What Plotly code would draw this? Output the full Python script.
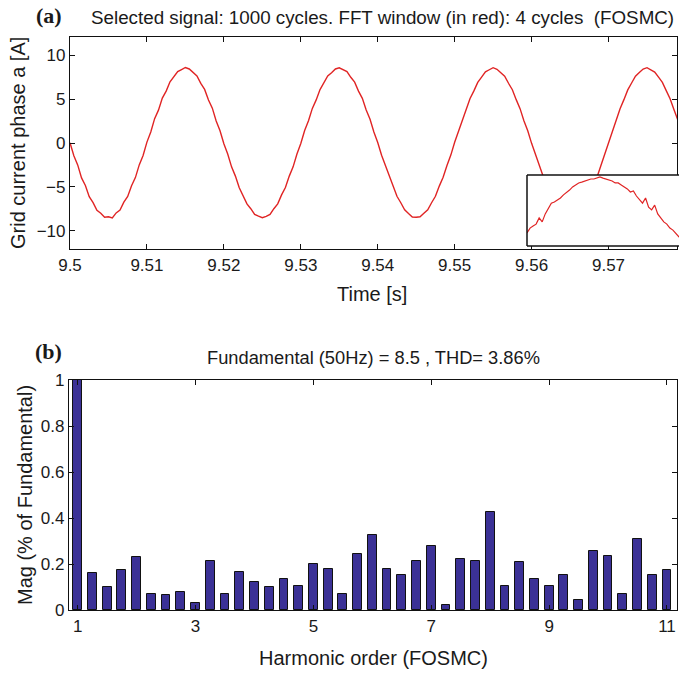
import numpy as np
import plotly.graph_objects as go

# ---------------- data ----------------
t_start = 9.5
t_step = 0.0005
current_a = [
    0.02, -1.45, -2.50, -3.98, -4.85, -6.12, -6.80, -7.68, -8.02, -8.47, -8.42, -8.55, -7.98, -7.66, -6.75, -6.10, -4.88, -3.95, -2.50, -1.42,
    0.10, 1.25, 2.78, 3.75, 5.12, 5.92, 6.98, 7.50, 8.15, 8.38, 8.62, 8.45, 8.00, 7.66, 6.80, 6.12, 4.90, 3.98, 2.52, 1.40,
    -0.08, -1.25, -2.72, -3.78, -5.10, -5.95, -6.95, -7.50, -8.15, -8.35, -8.52, -8.38, -8.15, -7.50, -6.95, -5.92, -5.08, -3.78, -2.72, -1.25,
    -0.05, 1.42, 2.55, 3.95, 4.92, 6.10, 6.82, 7.65, 8.02, 8.45, 8.58, 8.35, 8.15, 7.50, 6.95, 5.92, 5.10, 3.78, 2.70, 1.25,
    0.06, -1.40, -2.55, -3.92, -4.95, -6.08, -6.82, -7.62, -8.05, -8.45, -8.48, -8.42, -8.02, -7.62, -6.82, -6.08, -4.92, -3.92, -2.58, -1.38,
    0.08, 1.28, 2.70, 3.80, 5.08, 5.95, 6.92, 7.52, 8.12, 8.36, 8.60, 8.42, 8.02, 7.62, 6.82, 6.08, 4.95, 3.92, 2.55, 1.40,
    -0.04, -1.28, -2.70, -3.80, -5.06, -5.95, -6.92, -7.52, -8.12, -8.38, -8.50, -8.42, -8.05, -7.60, -6.85, -6.02, -4.95, -3.90, -2.60, -1.30,
    0.04, 1.38, 2.58, 3.92, 4.95, 6.06, 6.85, 7.62, 8.05, 8.44, 8.60, 8.38, 8.10, 7.52, 6.92, 5.98, 5.05, 3.82, 2.65,
]
time_s = [t_start + i * t_step for i in range(len(current_a))]

inset_start = 9.5526
inset_step = 0.0001
inset_current = [
    6.66, 6.83, 6.90, 6.97, 7.19, 7.05, 7.33, 7.54, 7.71, 7.75, 7.82, 7.89, 8.00, 8.07, 8.17, 8.28, 8.35,
    8.42, 8.45, 8.49, 8.52, 8.56, 8.56, 8.59, 8.63, 8.59, 8.56, 8.52, 8.49, 8.42, 8.42, 8.35, 8.28, 8.21,
    8.10, 8.14, 7.96, 7.85, 7.71, 7.89, 7.57, 7.47, 7.64, 7.33, 7.19, 7.05, 6.97, 6.83, 6.76, 6.62, 6.52, 6.48,
]
inset_time = [inset_start + i * inset_step for i in range(len(inset_current))]

harmonic_order = [1 + 0.25 * i for i in range(41)]
magnitude = [
    1.0, 0.162, 0.099, 0.174, 0.229, 0.071, 0.064, 0.078, 0.029, 0.214, 0.071, 0.167, 0.120, 0.099,
    0.133, 0.104, 0.201, 0.180, 0.071, 0.243, 0.325, 0.180, 0.152, 0.214, 0.277, 0.022, 0.222, 0.214,
    0.428, 0.104, 0.207, 0.133, 0.104, 0.152, 0.043, 0.257, 0.236, 0.071, 0.310, 0.152, 0.174,
]

top_xticks = [9.5, 9.51, 9.52, 9.53, 9.54, 9.55, 9.56, 9.57]
top_xlabels = ["9.5", "9.51", "9.52", "9.53", "9.54", "9.55", "9.56", "9.57"]
top_yticks = [-10, -5, 0, 5, 10]
bot_xticks = [1, 3, 5, 7, 9, 11]
bot_yticks = [0, 0.2, 0.4, 0.6, 0.8, 1]
bot_ylabels = ["0", "0.2", "0.4", "0.6", "0.8", "1"]

# ---------------- layout helpers ----------------
W, H = 679, 675
def px(x):
    return x / W
def py(y):
    return (H - y) / H

FONT = "Liberation Sans, Arial, sans-serif"
TXT = "#1a1a1a"

fig = go.Figure()
fig.add_trace(go.Scatter(x=time_s, y=current_a, mode="lines",
                         line=dict(color="#e02424", width=1.4),
                         xaxis="x", yaxis="y", showlegend=False))
fig.add_trace(go.Scatter(x=inset_time, y=inset_current, mode="lines",
                         line=dict(color="#e02424", width=1.2),
                         xaxis="x2", yaxis="y2", showlegend=False))
fig.add_trace(go.Bar(x=harmonic_order, y=magnitude, width=0.15,
                     marker=dict(color="#3b3196", line=dict(color="#111111", width=1)),
                     xaxis="x3", yaxis="y3", showlegend=False))

axis_common = dict(showline=True, linecolor="#111111", linewidth=1.2, mirror="ticks",
                   ticks="inside", ticklen=5, tickcolor="#111111", showgrid=False,
                   zeroline=False, automargin=False,
                   tickfont=dict(family=FONT, size=17, color=TXT))

fig.update_layout(
    template="none",
    width=W, height=H, margin=dict(l=0, r=0, t=0, b=0, autoexpand=False),
    paper_bgcolor="white", plot_bgcolor="white", bargap=0,
    xaxis=dict(domain=[px(70), px(677)], range=[9.5, 9.5789], tickvals=top_xticks,
               ticktext=top_xlabels, anchor="y", **axis_common),
    yaxis=dict(domain=[py(249), py(37)], range=[-12.1, 12.1], tickvals=top_yticks,
               anchor="x", **axis_common),
    xaxis2=dict(domain=[px(527), 1.0], range=[inset_start, inset_start + 0.005],
                visible=False, anchor="y2", automargin=False),
    yaxis2=dict(domain=[py(246), py(175)], range=[6.2, 8.7], visible=False, anchor="x2",
                automargin=False),
    xaxis3=dict(domain=[px(69), px(677)], range=[0.853, 11.17], tickvals=bot_xticks,
                anchor="y3", **axis_common),
    yaxis3=dict(domain=[py(610), py(380)], range=[0, 1], tickvals=bot_yticks,
                ticktext=bot_ylabels, anchor="x3", **axis_common),
)

# inset white background (drawn in inset subplot, below its trace but above main)
fig.add_shape(type="rect", xref="x2 domain", yref="y2 domain", x0=0, x1=1, y0=0, y1=1,
              fillcolor="white", line=dict(width=0), layer="below")
for (x0, y0, x1, y1) in [(527, 175, 690, 175), (527, 246, 690, 246), (527, 175, 527, 246)]:
    fig.add_shape(type="line", xref="paper", yref="paper", x0=px(x0), x1=px(x1),
                  y0=py(y0), y1=py(y1), line=dict(color="#111111", width=1.5), layer="above")

def ann(text, x, y, size, family=FONT, angle=0, bold=False):
    fig.add_annotation(text=f"<b>{text}</b>" if bold else text, x=px(x), y=py(y),
                       xref="paper", yref="paper", showarrow=False, textangle=angle,
                       xanchor="center", yanchor="middle",
                       font=dict(family=family, size=size, color=TXT))

ann("(a)", 49, 16, 22, family="Liberation Serif, Times New Roman, serif", bold=True)
ann("Selected signal: 1000 cycles. FFT window (in red): 4 cycles &nbsp;(FOSMC)", 382, 17, 18.8)
ann("Time [s]", 372, 294, 20)
ann("Grid current phase a [A]", 18, 143, 20, angle=-90)
ann("(b)", 49, 352, 22, family="Liberation Serif, Times New Roman, serif", bold=True)
ann("Fundamental (50Hz) = 8.5 , THD= 3.86%", 373, 357, 18.3)
ann("Harmonic order (FOSMC)", 373, 658, 20)
ann("Mag (% of Fundamental)", 25, 495, 20, angle=-90)

fig.write_html("out.html", config={"displayModeBar": False},
               post_script="document.body.style.margin='0';document.body.style.overflow='hidden';")
